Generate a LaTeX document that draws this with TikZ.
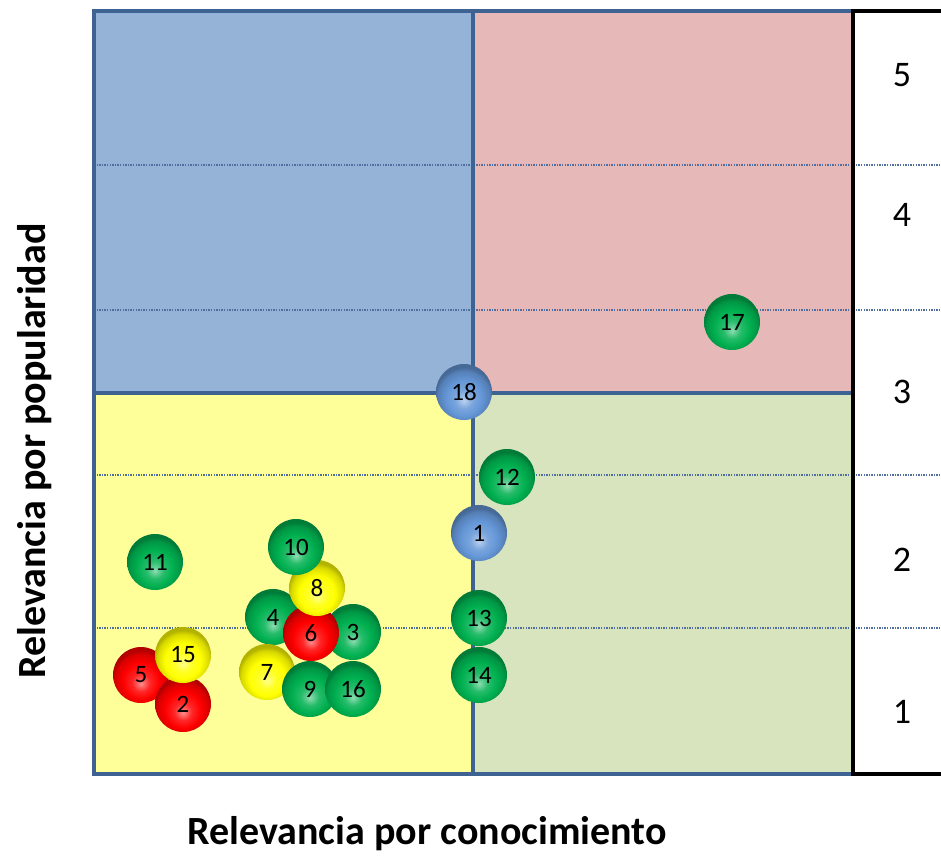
\documentclass[tikz,border=0pt]{standalone}
\usepackage{fontspec}
\setmainfont{Carlito}
\usetikzlibrary{shadings}
\definecolor{qblue}{RGB}{149,179,215}
\definecolor{qred}{RGB}{230,185,184}
\definecolor{qyellow}{RGB}{255,255,153}
\definecolor{qgreen}{RGB}{215,228,189}
\definecolor{frame}{RGB}{62,98,146}
\definecolor{dotc}{RGB}{80,110,160}
\definecolor{bgreen}{RGB}{0,176,80}
\definecolor{bred}{RGB}{255,0,0}
\definecolor{byellow}{RGB}{255,255,0}
\definecolor{bblue}{RGB}{100,150,215}
\newcommand\mkball[2]{\pgfdeclareradialshading{#1}{\pgfpoint{0bp}{-8bp}}{color(0bp)=(#2!45!white); color(8bp)=(#2!85!white); color(16bp)=(#2); color(23bp)=(#2!85!black); color(26bp)=(#2!70!black); color(50bp)=(#2!70!black)}}
\mkball{greenball}{bgreen}
\mkball{redball}{bred}
\mkball{yellowball}{byellow}
\mkball{blueball}{bblue}
\tikzset{
  ball/.style={circle, minimum size=56pt, inner sep=0pt, font=\fontsize{25}{25}\selectfont, text=black},
  ballG/.style={ball, shading=greenball},
  ballR/.style={ball, shading=redball},
  ballY/.style={ball, shading=yellowball},
  ballB/.style={ball, shading=blueball},
  gridline/.style={dotc, line width=1.3pt, dash pattern=on 1.3pt off 1.3pt},
  frameline/.style={frame, line width=4.5pt},
  scalelabel/.style={font=\fontsize{36}{36}\selectfont, text=black},
  axislabel/.style={font=\bfseries\fontsize{40}{40}\selectfont, text=black}
}
\begin{document}
\begin{tikzpicture}[x=1pt,y=-1pt]
\useasboundingbox (0,0) rectangle (941,856);
% quadrants
\fill[qblue] (94,11) rectangle (473,393);
\fill[qred] (473,11) rectangle (853,393);
\fill[qyellow] (94,393) rectangle (473,774);
\fill[qgreen] (473,393) rectangle (853,774);
\fill[white] (853,11) rectangle (941,774);
% dotted grid lines
\foreach \yy in {165,310,475,628} \draw[gridline] (94,\yy) -- (941,\yy);
% frame
\draw[frameline] (94,11) rectangle (853,774);
\draw[frameline] (473,11) -- (473,774);
\draw[frameline] (94,393) -- (853,393);
% black scale box
\draw[black, line width=4pt] (941,11) -- (853,11) -- (853,774) -- (941,774);
% scale labels
\node[scalelabel] (s5) at (902,75) {5};
\node[scalelabel] (s4) at (902,215) {4};
\node[scalelabel] (s3) at (902,392) {3};
\node[scalelabel] (s2) at (902,560) {2};
\node[scalelabel] (s1) at (902,712) {1};
% axis labels
\node[axislabel] (xlab) at (427,834) {Relevancia por conocimiento};
\node[axislabel, rotate=90] (ylab) at (35,451) {Relevancia por popularidad};
% balls
\node[ballG] (b11) at (155,562) {11};
\node[ballR] (b5) at (141,675) {5};
\node[ballR] (b2) at (183,704) {2};
\node[ballY] (b15) at (183,655) {15};
\node[ballG] (b4) at (273,617) {4};
\node[ballY] (b7) at (267,672) {7};
\node[ballG] (b9) at (310,689) {9};
\node[ballG] (b16) at (353,689) {16};
\node[ballG] (b3) at (353,632) {3};
\node[ballR] (b6) at (311,633) {6};
\node[ballY] (b8) at (317,588) {8};
\node[ballG] (b10) at (296,547) {10};
\node[ballG] (b17) at (732,322) {17};
\node[ballB] (b18) at (464,392) {18};
\node[ballG] (b12) at (507,477) {12};
\node[ballB] (b1) at (479,533) {1};
\node[ballG] (b14) at (479,675) {14};
\node[ballG] (b13) at (479,618) {13};
\end{tikzpicture}
\end{document}
